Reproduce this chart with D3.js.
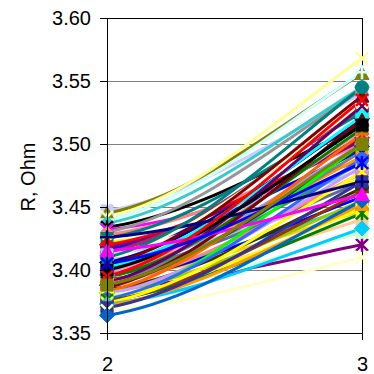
<!DOCTYPE html>
<html><head><meta charset="utf-8">
<script src="https://cdn.jsdelivr.net/npm/d3@7"></script>
<style>
html,body{margin:0;padding:0;background:#fff;}
svg{display:block;font-family:"Liberation Sans",Arial,sans-serif;}
</style></head>
<body><svg id="c" width="374" height="374"></svg>
<script>
// ---- data ----
const categories = [2, 3];
const yTicks = [3.35, 3.40, 3.45, 3.50, 3.55, 3.60];
const yLabel = "R, Ohm";
const startValues = [3.447,3.445,3.442,3.440,3.437,3.434,3.432,3.430,3.428,3.425,
  3.422,3.420,3.418,3.416,3.414,3.412,3.410,3.408,3.406,3.404,
  3.402,3.400,3.399,3.398,3.397,3.396,3.395,3.394,3.393,3.392,
  3.391,3.390,3.389,3.388,3.387,3.386,3.385,3.384,3.383,3.382,
  3.381,3.380,3.375,3.378,3.377,3.376,3.375,3.374,3.373,3.372,
  3.370,3.368,3.364,3.426,3.410,3.400,3.415,3.395,3.405,3.388];
const endValues = [3.540,3.556,3.568,3.557,3.545,3.515,3.487,3.543,3.500,3.525,
  3.472,3.505,3.503,3.495,3.528,3.480,3.531,3.462,3.520,3.538,
  3.522,3.490,3.470,3.510,3.452,3.500,3.485,3.512,3.447,3.458,
  3.494,3.530,3.477,3.498,3.440,3.519,3.420,3.465,3.508,3.455,
  3.482,3.430,3.500,3.449,3.488,3.445,3.462,3.478,3.433,3.452,
  3.470,3.410,3.455,3.470,3.545,3.515,3.460,3.535,3.485,3.500];
const seriesColors = ["#CCCCFF","#808000","#FFFF99","#CCFFFF","#33CCCC","#000000","#FF00FF","#969696","#FF8080","#008080",
  "#FFFF00","#FF0000","#800080","#0000FF","#993366","#99CCFF","#FFFFCC","#C0C0C0","#000080","#800000",
  "#00FFFF","#FF9900","#666699","#FF99CC","#00CCFF","#9999FF","#339966","#008000","#FFCC00","#0000FF",
  "#808080","#660066","#FF8080","#003366","#FFCC99","#800000","#800080","#333300","#FF6600","#99CC00",
  "#CC99FF","#CCFFCC","#00FF00","#FFFF00","#3366FF","#008000","#993300","#FFFF00","#00CCFF","#FF9900",
  "#333399","#FFFFCC","#0066CC","#000080","#008080","#000000","#FF00FF","#FF0000","#0000FF","#808000"];
const seriesMarkers = ["square","triangle","x","plus","diamond","star","x","triangle","circle","square",
  "star","diamond","plus","triangle","circle","square","circle","x","diamond","triangle",
  "circle","square","star","x","plus","diamond","triangle","square","circle","triangle",
  "star","x","circle","diamond","square","triangle","star","circle","plus","diamond",
  "x","square","triangle","square","circle","star","plus","x","diamond","triangle",
  "square","x","diamond","plus","circle","square","triangle","x","star","square"];

// ---- layout ----
const W = 374, H = 374;
const L = 107, R = 362, T = 18, B = 333;
const svg = d3.select("#c");
const x = d3.scaleLinear().domain([2, 3]).range([L, R]);
const y = d3.scaleLinear().domain([3.35, 3.60]).range([B, T]);

svg.append("defs").append("clipPath").attr("id","clip")
  .append("rect").attr("x",L).attr("y",T).attr("width",R-L).attr("height",B-T);

// gridlines
svg.append("g").selectAll("line").data(yTicks.slice(1,-1)).join("line")
  .attr("x1",L).attr("x2",R).attr("y1",d=>y(d)).attr("y2",d=>y(d))
  .attr("stroke","#808080").attr("stroke-width",1).attr("shape-rendering","crispEdges");

// custom curve: flatter start, steeper end
function easeCurve(context){
  let pts=[];
  return {
    areaStart(){}, areaEnd(){},
    lineStart(){pts=[];},
    point(px,py){pts.push([+px,+py]);},
    lineEnd(){
      if(pts.length<2) return;
      context.moveTo(pts[0][0],pts[0][1]);
      for(let i=1;i<pts.length;i++){
        const p0=pts[i-1],p1=pts[i];
        const dx=p1[0]-p0[0],dy=p1[1]-p0[1],m=dy/dx;
        context.bezierCurveTo(p0[0]+dx/3,p0[1]+0.35*m*dx/3,p1[0]-dx/3,p1[1]-1.15*m*dx/3,p1[0],p1[1]);
      }
    }
  };
}
const series = startValues.map((s,i)=>({
  values:[{c:categories[0],v:s},{c:categories[1],v:endValues[i]}],
  color:seriesColors[i], marker:seriesMarkers[i]
}));
const line = d3.line().x(d=>x(d.c)).y(d=>y(d.v)).curve(easeCurve);

svg.append("g").attr("clip-path","url(#clip)")
  .selectAll("path").data(series).join("path")
  .attr("d",d=>line(d.values)).attr("fill","none")
  .attr("stroke",d=>d.color).attr("stroke-width",3).attr("stroke-linecap","round");

// frame + axes
svg.append("rect").attr("x",R).attr("y",T).attr("width",0).attr("height",0);
svg.append("line").attr("x1",L).attr("x2",R).attr("y1",T).attr("y2",T).attr("stroke","#000").attr("shape-rendering","crispEdges");
svg.append("line").attr("x1",R).attr("x2",R).attr("y1",T).attr("y2",B).attr("stroke","#000").attr("shape-rendering","crispEdges");

// markers
function markerPath(type){
  const p=d3.path();
  if(type==="diamond"){p.moveTo(0,-7.5);p.lineTo(7.5,0);p.lineTo(0,7.5);p.lineTo(-7.5,0);p.closePath();}
  else if(type==="square"){p.rect(-6,-6,12,12);}
  else if(type==="triangle"){p.moveTo(0,-7);p.lineTo(7,6);p.lineTo(-7,6);p.closePath();}
  else if(type==="circle"){p.arc(0,0,6.5,0,2*Math.PI);}
  else if(type==="x"){p.moveTo(-6,-6);p.lineTo(6,6);p.moveTo(6,-6);p.lineTo(-6,6);}
  else if(type==="star"){p.moveTo(-6,-6);p.lineTo(6,6);p.moveTo(6,-6);p.lineTo(-6,6);p.moveTo(0,-7);p.lineTo(0,7);}
  else if(type==="plus"){p.moveTo(-7,0);p.lineTo(7,0);p.moveTo(0,-7);p.lineTo(0,7);}
  return p.toString();
}
const filled = t => ["diamond","square","triangle","circle"].includes(t);
const mg = svg.append("g");
series.forEach(s=>{
  s.values.forEach(d=>{
    mg.append("path").attr("d",markerPath(s.marker))
      .attr("transform",`translate(${x(d.c)},${y(d.v)})`)
      .attr("fill",filled(s.marker)?s.color:"none")
      .attr("stroke",s.color).attr("stroke-width",filled(s.marker)?1:2.5);
  });
});

// y axis
const yAxis = svg.append("g").attr("transform",`translate(${L},0)`)
  .call(d3.axisLeft(y).tickValues(yTicks).tickFormat(d3.format(".2f")).tickSize(7).tickSizeOuter(0).tickPadding(9));
yAxis.selectAll("text").attr("font-size",20).attr("font-family","'Liberation Sans',Arial,sans-serif").attr("fill","#000");
yAxis.selectAll("line,path").attr("stroke","#000").attr("shape-rendering","crispEdges");

// x axis
const xAxis = svg.append("g").attr("transform",`translate(0,${B})`)
  .call(d3.axisBottom(x).tickValues(categories).tickFormat(d3.format("d")).tickSize(7).tickSizeOuter(0).tickPadding(17));
xAxis.selectAll("text").attr("font-size",20).attr("font-family","'Liberation Sans',Arial,sans-serif").attr("fill","#000");
xAxis.selectAll("line,path").attr("stroke","#000").attr("shape-rendering","crispEdges");

// y label
svg.append("text").attr("transform","translate(35,177) rotate(-90)")
  .attr("text-anchor","middle").attr("font-size",20).attr("fill","#000").text(yLabel);
</script></body></html>
